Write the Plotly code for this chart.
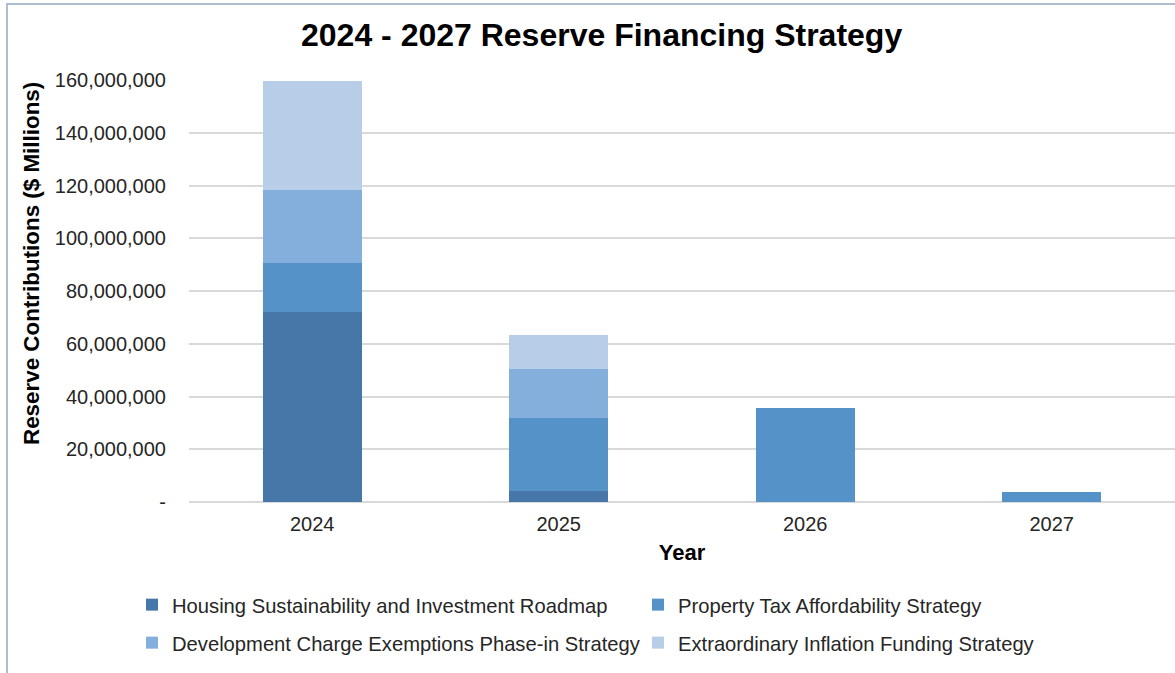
import plotly.graph_objects as go

# Reserve contributions by strategy, per year (dollars)
years = ["2024", "2025", "2026", "2027"]
housing_roadmap = [72_000_000, 4_200_000, 0, 0]
property_tax = [18_500_000, 27_500_000, 35_800_000, 3_800_000]
dc_exemptions = [27_800_000, 18_900_000, 0, 0]
inflation_funding = [41_200_000, 12_900_000, 0, 0]

series_names = [
    "Housing Sustainability and Investment Roadmap",
    "Property Tax Affordability Strategy",
    "Development Charge Exemptions Phase-in Strategy",
    "Extraordinary Inflation Funding Strategy",
]
series_values = [housing_roadmap, property_tax, dc_exemptions, inflation_funding]
series_colors = ["#4677a8", "#5592c8", "#84aedb", "#b7cde8"]
# two legend rows of two entries each
series_legend = ["legend", "legend", "legend2", "legend2"]

tick_values = [0, 20e6, 40e6, 60e6, 80e6, 100e6, 120e6, 140e6, 160e6]
tick_labels = ["-", "20,000,000", "40,000,000", "60,000,000", "80,000,000",
               "100,000,000", "120,000,000", "140,000,000", "160,000,000"]

FONT = "Liberation Sans, Arial, sans-serif"

# plot area geometry in pixels
W, H = 1175, 673
ML, MR, MT, MB = 189, 0, 80, 171
PW, PH = W - ML - MR, H - MT - MB


def px_x(px):
    return (px - ML) / PW


def px_y(py):
    return (H - MB - py) / PH


fig = go.Figure()
for name, vals, col, leg in zip(series_names, series_values, series_colors, series_legend):
    fig.add_trace(go.Bar(
        x=years, y=vals, name=name, legend=leg,
        marker=dict(color=col, line=dict(width=0)),
    ))

legend_common = dict(
    orientation="h",
    traceorder="normal",
    xref="paper", yref="paper",
    xanchor="left", yanchor="middle",
    entrywidth=461, entrywidthmode="pixels",
    font=dict(size=20.2, color="#262626"),
    bgcolor="rgba(0,0,0,0)",
)

fig.update_layout(
    width=W, height=H,
    barmode="stack",
    bargap=0.6,
    paper_bgcolor="white",
    plot_bgcolor="white",
    margin=dict(l=ML, r=MR, t=MT, b=MB),
    font=dict(family=FONT, color="#262626", size=20),
    title=dict(
        text="<b>2024 - 2027 Reserve Financing Strategy</b>",
        x=0.512, xanchor="center", xref="container",
        y=0.948, yanchor="middle", yref="container",
        font=dict(family=FONT, size=32, color="#000000"),
    ),
    xaxis=dict(
        title=dict(text="<b>Year</b>", font=dict(size=22, color="#000000"), standoff=10),
        showgrid=False, showline=False, ticks="", ticklabelstandoff=8,
        tickfont=dict(size=20, color="#262626"),
    ),
    yaxis=dict(
        range=[0, 160e6],
        tickvals=tick_values, ticktext=tick_labels,
        showgrid=True, gridcolor="#d9d9d9", gridwidth=2,
        zeroline=True, zerolinecolor="#d9d9d9", zerolinewidth=2,
        showline=False, ticks="", ticklabelstandoff=22,
        tickfont=dict(size=20, color="#262626"),
    ),
    legend=dict(legend_common, x=px_x(132), y=px_y(605)),
    legend2=dict(legend_common, x=px_x(132), y=px_y(643)),
    annotations=[
        dict(
            text="<b>Reserve Contributions ($ Millions)</b>",
            textangle=-90, showarrow=False,
            xref="paper", yref="paper",
            x=px_x(31), y=px_y(264), xanchor="center", yanchor="middle",
            font=dict(family=FONT, size=22.4, color="#000000"),
        )
    ],
    shapes=[
        # chart frame (left and top edges visible)
        dict(type="line", xref="paper", yref="paper",
             x0=px_x(7), x1=px_x(7), y0=px_y(4), y1=px_y(H + 2),
             line=dict(color="#aebdd0", width=2)),
        dict(type="line", xref="paper", yref="paper",
             x0=px_x(6), x1=px_x(W + 2), y0=px_y(4), y1=px_y(4),
             line=dict(color="#aebdd0", width=2)),
    ],
)

fig.write_html("out.html")
